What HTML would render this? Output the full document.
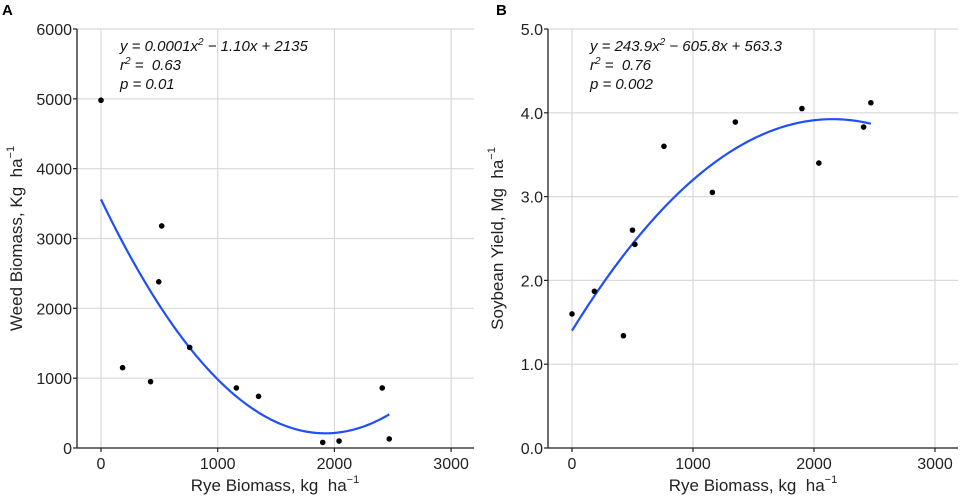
<!DOCTYPE html>
<html><head><meta charset="utf-8"><style>
body{margin:0;background:#fff;}
svg{display:block;font-family:"Liberation Sans",Arial,sans-serif;}
</style></head><body>
<svg id="chart" width="964" height="500" viewBox="0 0 964 500"></svg>
<script>
// Panel A data
const aX = [0,185,425,495,520,760,1160,1350,1900,2040,2410,2470];
const aY = [4980,1150,950,2380,3180,1440,860,740,80,100,860,130];
const aCoef = [3560,-3.484,0.000906];
const aYTicks = [0,1000,2000,3000,4000,5000,6000];
const aYTickLabels = ["0","1000","2000","3000","4000","5000","6000"];
// Panel B data
const bX = [0,185,425,500,520,760,1160,1350,1900,2040,2410,2470];
const bY = [1.6,1.87,1.34,2.6,2.43,3.6,3.05,3.89,4.05,3.4,3.83,4.12];
const bCoef = [1.4,0.002344,-5.442e-7];
const bYTicks = [0,1,2,3,4,5];
const bYTickLabels = ["0.0","1.0","2.0","3.0","4.0","5.0"];
const xTicks = [0,1000,2000,3000];
const xTickLabels = ["0","1000","2000","3000"];
const curveRange = [0,2470];

const NS="http://www.w3.org/2000/svg";
const svg=document.getElementById('chart');
function mk(tag,attrs,parent,text){const e=document.createElementNS(NS,tag);for(const k in attrs)e.setAttribute(k,attrs[k]);if(text!==undefined)e.textContent=text;(parent||svg).appendChild(e);return e;}

function panel(p){
  const g=mk('g',{});
  
  
  const sx=v=>p.x0+(v/1000)*p.xs;
  const sy=v=>p.yBot-(v-p.yMin)/(p.yMax-p.yMin)*(p.yBot-p.yTop);
  xTicks.forEach(t=>{const l=mk('line',{x1:sx(t),x2:sx(t),y1:p.yTop,y2:p.yBot,stroke:'#d9d9d9','stroke-width':1.2},g);
    
    });
  p.yTicks.forEach(t=>{const l=mk('line',{x1:p.axL,x2:p.axR,y1:sy(t),y2:sy(t),stroke:'#d9d9d9','stroke-width':1.2},g);
    
    });
  const ya=mk('line',{x1:p.axL,x2:p.axL,y1:p.yTop,y2:p.yBot,stroke:'#222','stroke-width':1.3},g);
  
  
  const xa=mk('line',{x1:p.axL,x2:p.axR,y1:p.yBot,y2:p.yBot,stroke:'#222','stroke-width':1.3},g);
  
  
  p.yTicks.forEach((t,i)=>{
    mk('line',{x1:p.axL-4,x2:p.axL,y1:sy(t),y2:sy(t),stroke:'#222','stroke-width':1.2},g);
    const tx=mk('text',{x:p.axL-5,y:sy(t)+6,'text-anchor':'end','font-size':16,fill:'#222'},g,p.yLabels[i]);
    
    
  });
  xTicks.forEach((t,i)=>{
    mk('line',{x1:sx(t),x2:sx(t),y1:p.yBot,y2:p.yBot+4,stroke:'#222','stroke-width':1.2},g);
    const tx=mk('text',{x:sx(t),y:p.yBot+21,'text-anchor':'middle','font-size':16,fill:'#222'},g,xTickLabels[i]);
    
    
  });
  let d='';
  for(let i=0;i<=100;i++){const x=curveRange[0]+(curveRange[1]-curveRange[0])*i/100;const y=p.coef[0]+p.coef[1]*x+p.coef[2]*x*x;d+=(i?'L':'M')+sx(x).toFixed(2)+','+sy(y).toFixed(2);}
  const c=mk('path',{d:d,fill:'none',stroke:'#1f4ff5','stroke-width':2.2},g);
  
  
  p.xs_data.forEach((x,i)=>{
    const pt=mk('circle',{cx:sx(x),cy:sy(p.ys_data[i]),r:2.8,fill:'#000'},g);
    
    
  });
  const lb=mk('text',{x:p.letterX,y:15,'font-size':15,'font-weight':'bold',fill:'#000'},g,p.letter);
  
  
  const eq=mk('text',{x:p.eqX,y:51,'font-size':15,'font-style':'italic',fill:'#111'},g);
  
  
  eq.innerHTML=p.eq1+'<tspan dy="-6" font-size="10">2</tspan><tspan dy="6">'+p.eq2+'</tspan>';
  const r2=mk('text',{x:p.eqX,y:70,'font-size':15,'font-style':'italic',fill:'#111'},g);
  
  
  r2.innerHTML='r<tspan dy="-6" font-size="10">2</tspan><tspan dy="6">\u00a0=\u00a0\u00a0'+p.r2+'</tspan>';
  const pv=mk('text',{x:p.eqX,y:89,'font-size':15,'font-style':'italic',fill:'#111'},g,'p = '+p.pv);
  
  
  const xt=mk('text',{x:p.xTitleX,y:491,'text-anchor':'middle','font-size':17,fill:'#222'},g);
  
  
  xt.innerHTML='Rye Biomass, kg\u00a0\u00a0ha<tspan dy="-8" font-size="11">−1</tspan>';
  const yt=mk('text',{x:0,y:0,'text-anchor':'middle','font-size':17,fill:'#222',transform:'translate('+p.yTitleX+','+((p.yTop+p.yBot)/2)+') rotate(-90)'},g);
  
  
  yt.innerHTML=p.yTitle+'<tspan dy="-8" font-size="11">−1</tspan>';
}
panel({name:'panel-a-weed-biomass',x0:101,xs:116.7,axL:77,axR:474,yTop:29,yBot:448,yMin:0,yMax:6000,
  yTicks:aYTicks,yLabels:aYTickLabels,coef:aCoef,xs_data:aX,ys_data:aY,letter:'A',letterX:2,eqX:120,
  eq1:'y = 0.0001x',eq2:' − 1.10x + 2135',r2:'0.63',pv:'0.01',xTitleX:275,yTitleX:22,yTitle:'Weed Biomass, Kg\u00a0\u00a0ha'});
panel({name:'panel-b-soybean-yield',x0:572,xs:121,axL:548,axR:958,yTop:29,yBot:448,yMin:0,yMax:5,
  yTicks:bYTicks,yLabels:bYTickLabels,coef:bCoef,xs_data:bX,ys_data:bY,letter:'B',letterX:496,eqX:590,
  eq1:'y = 243.9x',eq2:' − 605.8x + 563.3',r2:'0.76',pv:'0.002',xTitleX:753,yTitleX:503,yTitle:'Soybean Yield, Mg\u00a0\u00a0ha'});
</script>
</body></html>
